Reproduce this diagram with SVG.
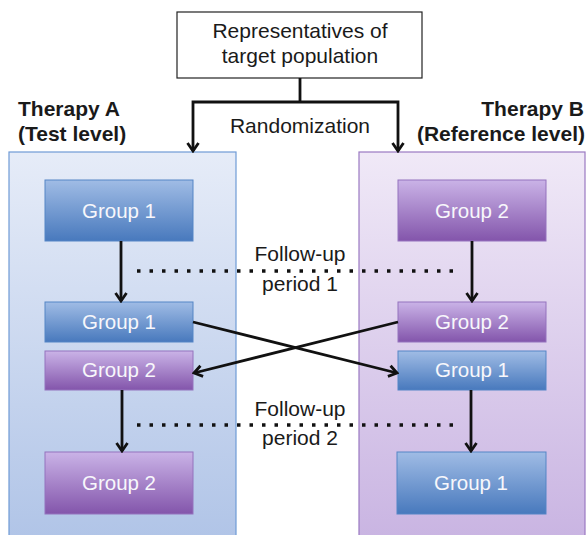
<svg xmlns="http://www.w3.org/2000/svg" width="587" height="535" viewBox="0 0 587 535">
<style>
text{font-family:"Liberation Sans",Arial,sans-serif;}
.lbl{font-size:21px;fill:#1a1a1a;text-anchor:middle;}
.hdr{font-size:21px;font-weight:bold;fill:#1a1a1a;}
.grp{font-size:20.5px;fill:#f7f7fb;text-anchor:middle;}
.conn{stroke:#111;stroke-width:2.8;fill:none;}
.dot{stroke:#111;stroke-width:3.5;fill:none;stroke-dasharray:3.5 9;}
.blue{fill:url(#gBlue);stroke:#5585c5;stroke-width:1;}
.purp{fill:url(#gPurp);stroke:#9473bd;stroke-width:1;}
</style>
<defs>
<linearGradient id="gPanelA" x1="0" y1="0" x2="0" y2="1">
<stop offset="0" stop-color="#e6ecf8"/><stop offset="1" stop-color="#b0c4e7"/>
</linearGradient>
<linearGradient id="gPanelB" x1="0" y1="0" x2="0" y2="1">
<stop offset="0" stop-color="#f0e9f7"/><stop offset="1" stop-color="#c9b4e2"/>
</linearGradient>
<linearGradient id="gBlue" x1="0" y1="0" x2="0" y2="1">
<stop offset="0" stop-color="#a0bce5"/><stop offset="1" stop-color="#4879bd"/>
</linearGradient>
<linearGradient id="gPurp" x1="0" y1="0" x2="0" y2="1">
<stop offset="0" stop-color="#cab3e7"/><stop offset="1" stop-color="#8355ab"/>
</linearGradient>
<marker id="arr" viewBox="-10 -7 12 14" markerWidth="12" markerHeight="14" refX="0" refY="0" orient="auto" markerUnits="userSpaceOnUse">
<path d="M-8,-5.5 L0,0 L-8,5.5" fill="none" stroke="#111" stroke-width="2.8"/>
</marker>
</defs>

<g id="panelA">
<rect x="9" y="152" width="227" height="390" fill="url(#gPanelA)" stroke="#6f9bd6" stroke-width="1.2"/>
<text class="hdr" x="18" y="116">Therapy A</text>
<text class="hdr" x="18" y="141">(Test level)</text>
</g>
<g id="panelB">
<rect x="359" y="152" width="226" height="390" fill="url(#gPanelB)" stroke="#9a79c2" stroke-width="1.2"/>
<text class="hdr" x="584" y="116" text-anchor="end">Therapy B</text>
<text class="hdr" x="585" y="141" text-anchor="end">(Reference level)</text>
</g>

<g id="population">
<rect x="177" y="12" width="245" height="66" fill="#fff" stroke="#222" stroke-width="1.2"/>
<text class="lbl" x="300" y="38">Representatives of</text>
<text class="lbl" x="300" y="63">target population</text>
</g>

<g id="a1"><rect class="blue" x="45" y="180" width="148" height="61"/><text class="grp" x="119" y="218">Group 1</text></g>
<g id="b1"><rect class="purp" x="398" y="180" width="148" height="61"/><text class="grp" x="472" y="218">Group 2</text></g>
<g id="a2"><rect class="blue" x="45" y="302" width="148" height="40"/><text class="grp" x="119" y="329">Group 1</text></g>
<g id="a3"><rect class="purp" x="45" y="351" width="148" height="39"/><text class="grp" x="119" y="377">Group 2</text></g>
<g id="b2"><rect class="purp" x="398" y="302" width="148" height="40"/><text class="grp" x="472" y="329">Group 2</text></g>
<g id="b3"><rect class="blue" x="398" y="351" width="148" height="39"/><text class="grp" x="472" y="377">Group 1</text></g>
<g id="a4"><rect class="purp" x="45" y="452" width="148" height="62"/><text class="grp" x="119" y="490">Group 2</text></g>
<g id="b4"><rect class="blue" x="397" y="452" width="149" height="62"/><text class="grp" x="471" y="490">Group 1</text></g>

<g id="labels">
<text class="lbl" x="300" y="133">Randomization</text>
<text class="lbl" x="300" y="261">Follow-up</text>
<text class="lbl" x="300" y="291">period 1</text>
<text class="lbl" x="300" y="416">Follow-up</text>
<text class="lbl" x="300" y="445">period 2</text>
</g>

<g id="connectors">
<path class="conn" d="M300,78 V102"/>
<path class="conn" d="M300,102 H193 V151" marker-end="url(#arr)"/>
<path class="conn" d="M300,102 H398 V151" marker-end="url(#arr)"/>
<path class="conn" d="M121,241 V301" marker-end="url(#arr)"/>
<path class="conn" d="M472,241 V301" marker-end="url(#arr)"/>
<path class="conn" d="M122,390 V451" marker-end="url(#arr)"/>
<path class="conn" d="M471,390 V451" marker-end="url(#arr)"/>
<path class="conn" d="M193,322 L397,373" marker-end="url(#arr)"/>
<path class="conn" d="M398,322 L194,373" marker-end="url(#arr)"/>
<path class="dot" d="M137,271 H455"/>
<path class="dot" d="M137,425 H455"/>
</g>
</svg>
